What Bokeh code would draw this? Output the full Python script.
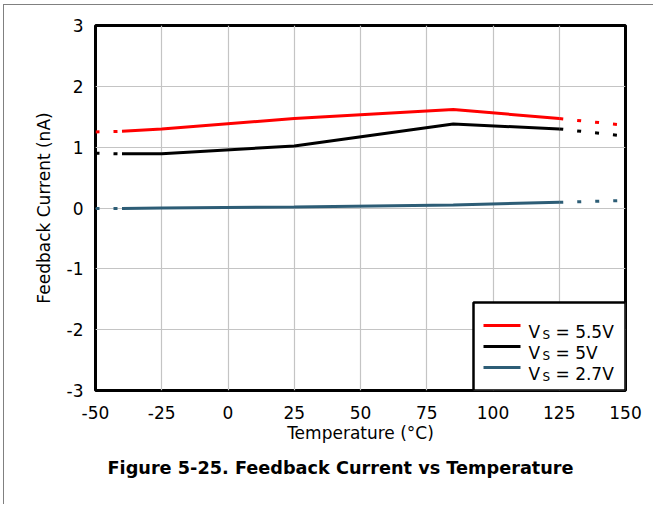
from bokeh.plotting import figure
from bokeh.models import Range1d, FixedTicker, BoxAnnotation, Label, Arrow, Title
from bokeh.embed import file_html
from bokeh.resources import INLINE

# ---------------- data ----------------
temps = [-40, -25, 25, 85, 125]
red_vals = [1.26, 1.30, 1.47, 1.62, 1.47]      # VS = 5.5V
black_vals = [0.89, 0.89, 1.02, 1.38, 1.30]    # VS = 5V
teal_vals = [-0.01, 0.0, 0.015, 0.05, 0.093]   # VS = 2.7V

left_temps = [-50, -40]
right_temps = [125, 150]
red_left = [1.25, 1.26]
red_right = [1.47, 1.36]
black_left = [0.90, 0.89]
black_right = [1.30, 1.18]
teal_left = [-0.01, -0.01]
teal_right = [0.093, 0.125]

x_ticks = [-50, -25, 0, 25, 50, 75, 100, 125, 150]
y_ticks = [-3, -2, -1, 0, 1, 2, 3]
x_tick_labels = ["-50", "-25", "0", "25", "50", "75", "100", "125", "150"]
y_tick_labels = ["-3", "-2", "-1", "0", "1", "2", "3"]
legend_labels = ["5.5V", "5V", "2.7V"]

RED = "#FF0000"
BLACK = "#000000"
TEAL = "#2D5D76"
FONT = "DejaVu Sans"

X_MIN, X_MAX = -50, 150
Y_MIN, Y_MAX = -3, 3

# page-pixel geometry of the frame (for placing the legend)
FL, FR, FT, FB = 95, 625, 25, 390


def dx(px):
    return X_MIN + (px - FL) * (X_MAX - X_MIN) / (FR - FL)


def dy(py):
    return Y_MAX - (py - FT) * (Y_MAX - Y_MIN) / (FB - FT)


CANVAS_X, CANVAS_Y = 4, 5
W, H = 650, 500

p = figure(width=W, height=H, output_backend="svg", toolbar_location=None,
           x_range=Range1d(X_MIN, X_MAX), y_range=Range1d(Y_MIN, Y_MAX),
           min_border_left=FL - CANVAS_X, min_border_top=FT - CANVAS_Y,
           min_border_right=W - (FR - CANVAS_X), min_border_bottom=H - (FB - CANVAS_Y))
p.styles = {"border-left": "1px solid #808080", "border-top": "1px solid #808080",
            "margin-left": "3px", "margin-top": "4px"}

p.outline_line_color = "black"
p.outline_line_width = 3
p.background_fill_color = "white"
p.border_fill_color = "white"

# grid
p.xgrid.ticker = FixedTicker(ticks=x_ticks)
p.ygrid.ticker = FixedTicker(ticks=y_ticks)
for g in (p.xgrid, p.ygrid):
    g.grid_line_color = "#c4c4c4"
    g.grid_line_width = 1.2

# axes
p.xaxis.ticker = FixedTicker(ticks=x_ticks)
p.yaxis.ticker = FixedTicker(ticks=y_ticks)
p.xaxis.major_label_overrides = dict(zip(x_ticks, x_tick_labels))
p.yaxis.major_label_overrides = dict(zip(y_ticks, y_tick_labels))
for ax in (p.xaxis, p.yaxis):
    ax.axis_line_color = None
    ax.major_tick_line_color = None
    ax.minor_tick_line_color = None
    ax.major_tick_out = 0
    ax.major_tick_in = 0
    ax.major_label_text_font = FONT
    ax.major_label_text_font_size = "17px"
    ax.major_label_text_color = "black"
    ax.axis_label_text_font = FONT
    ax.axis_label_text_font_size = "17px"
    ax.axis_label_text_font_style = "normal"
    ax.axis_label_text_color = "black"
p.xaxis.axis_label = "Temperature (°C)"
p.yaxis.axis_label = "Feedback Current (nA)"
p.xaxis.major_label_standoff = 15
p.xaxis.axis_label_standoff = 1
p.yaxis.major_label_standoff = 12
p.yaxis.axis_label_standoff = 10

# data lines
series = [
    (red_vals, red_left, red_right, RED),
    (black_vals, black_left, black_right, BLACK),
    (teal_vals, teal_left, teal_right, TEAL),
]
for vals, lv, rv, col in series:
    p.line(temps, vals, line_color=col, line_width=3)
    p.line(left_temps, lv, line_color=col, line_width=3, line_dash="4 14")
    p.line(right_temps, rv, line_color=col, line_width=3, line_dash="4 14")

# legend (drawn manually to allow the subscript S)
p.add_layout(BoxAnnotation(left=dx(473), right=X_MAX, top=dy(302), bottom=Y_MIN,
                           fill_color="white", fill_alpha=1.0,
                           line_color="black", line_width=2.5, line_alpha=1.0))
row_base = [331, 352, 373]
for lab, col, base in zip(legend_labels, [RED, BLACK, TEAL], row_base):
    p.add_layout(Arrow(end=None, x_start=dx(483), x_end=dx(520),
                       y_start=dy(base - 6), y_end=dy(base - 6),
                       line_color=col, line_width=3))
    p.add_layout(Label(x=dx(528), y=dy(base), text="V", text_font=FONT,
                       text_font_size="17px", text_baseline="alphabetic",
                       text_align="left", text_color="black"))
    p.add_layout(Label(x=dx(542), y=dy(base + 3), text="S", text_font=FONT,
                       text_font_size="12px", text_baseline="alphabetic",
                       text_align="left", text_color="black"))
    p.add_layout(Label(x=dx(555), y=dy(base), text="= " + lab, text_font=FONT,
                       text_font_size="17px", text_baseline="alphabetic",
                       text_align="left", text_color="black"))

p.add_layout(Title(text="Figure 5-25. Feedback Current vs Temperature",
                   align="left", offset=12, standoff=20,
                   text_font=FONT, text_font_size="17.7px", text_font_style="bold",
                   text_color="black"), "below")

open("out.html", "w").write(file_html(p, INLINE))
